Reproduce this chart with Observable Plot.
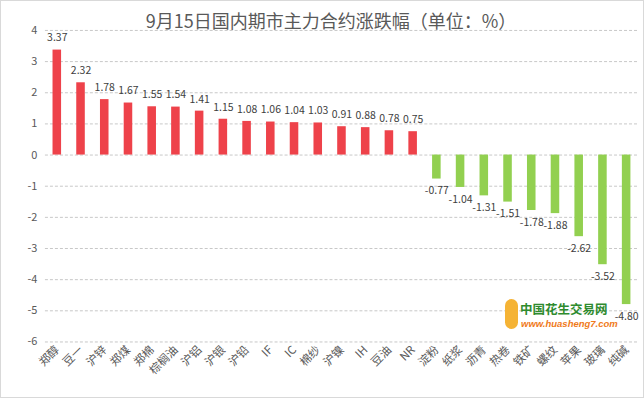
<!DOCTYPE html>
<html>
<head>
<meta charset="utf-8">
<script src="https://cdn.jsdelivr.net/npm/d3@7"></script>
<script src="https://cdn.jsdelivr.net/npm/@observablehq/plot@0.6"></script>
<style>
  html, body { margin: 0; padding: 0; background: #fff; }
  #wrap { position: relative; width: 644px; height: 398px; box-sizing: border-box; border: 1px solid #d9d9d9; overflow: hidden; font-family: "Noto Sans CJK SC", sans-serif; }
  #chart { position: absolute; left: -1px; top: -1px; }
  #title { position: absolute; left: 0; width: 660px; top: 6px; text-align: center; font-size: 18px; color: #595959; }
  #wm1 { position: absolute; left: 519px; top: 301px; font-size: 12.5px; line-height: 13px; font-weight: bold; color: #2e8b2e; }
  #wm2 { position: absolute; left: 520px; top: 318px; font-size: 9.5px; line-height: 10px; font-style: italic; font-weight: bold; color: #f07a1a; font-family: "Liberation Sans", sans-serif; }
  #logo { position: absolute; left: 504px; top: 298px; width: 13px; height: 30px; border-radius: 8px; background: #f5b335; }
</style>
</head>
<body>
<div id="wrap">
  <div id="chart"></div>
  <div id="title">9月15日国内期市主力合约涨跌幅（单位：%）</div>
  <div id="logo"></div>
  <div id="wm1">中国花生交易网</div>
  <div id="wm2">www.huasheng7.com</div>
</div>
<script>
const categories = ["郑醇","豆一","沪锌","郑煤","郑棉","棕榈油","沪铝","沪银","沪铅","IF","IC","棉纱","沪镍","IH","豆油","NR","淀粉","纸浆","沥青","热卷","铁矿","螺纹","苹果","玻璃","纯碱"];
const values = [3.37,2.32,1.78,1.67,1.55,1.54,1.41,1.15,1.08,1.06,1.04,1.03,0.91,0.88,0.78,0.75,-0.77,-1.04,-1.31,-1.51,-1.78,-1.88,-2.62,-3.52,-4.80];
const yTicks = [-6,-5,-4,-3,-2,-1,0,1,2,3,4];

const data = categories.map((c, i) => ({name: c, value: values[i]}));
const pos = data.filter(d => d.value >= 0);
const neg = data.filter(d => d.value < 0);

const chart = Plot.plot({
  width: 644,
  height: 398,
  marginTop: 30,
  marginBottom: 56,
  marginLeft: 45,
  marginRight: 5,
  style: { fontFamily: "Noto Sans CJK SC, sans-serif", fontSize: "11px", color: "#595959", background: "#fff" },
  x: { type: "band", domain: categories, padding: 0, round: false, label: null },
  y: { domain: [-6, 4], ticks: yTicks, label: null },
  marks: [
    Plot.gridY(yTicks, { stroke: "#c8c8c8", strokeOpacity: 1, strokeDasharray: "3,2" }),
    Plot.axisY(yTicks, { tickSize: 0, tickPadding: 8, fontSize: 11, fill: "#595959", tickFormat: d => String(d), label: null }),
    Plot.axisX({ tickSize: 0, tickPadding: 6, tickRotate: -45, fontSize: 11.5, fill: "#595959", label: null }),
    Plot.barY(data, { x: "name", y: "value", insetLeft: 7.6, insetRight: 7.6, fill: d => d.value >= 0 ? "#ee424a" : "#92d050" }),
    Plot.text(pos, { x: "name", y: "value", text: d => d.value.toFixed(2), dy: -12, fontSize: 10.5, fill: "#404040" }),
    Plot.text(neg, { x: "name", y: "value", text: d => d.value.toFixed(2), dy: 12, fontSize: 10.5, fill: "#404040" })
  ]
});
document.getElementById("chart").appendChild(chart);
</script>
</body>
</html>
